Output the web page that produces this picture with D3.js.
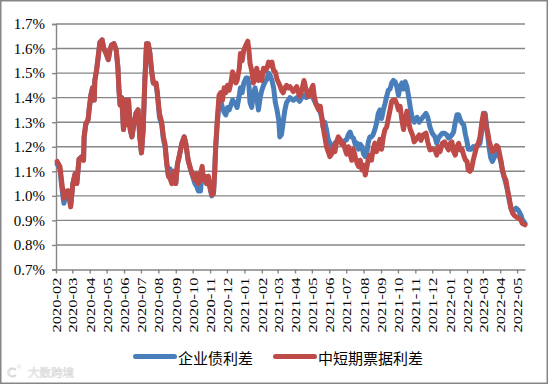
<!DOCTYPE html>
<html><head><meta charset="utf-8">
<script src="https://cdn.jsdelivr.net/npm/d3@7"></script>
<style>body{margin:0;background:#fff}svg{display:block}</style>
</head><body>
<svg id="c" width="549" height="385"></svg>
<script>
// ---- data ----
const dates = [
"2020-02-03","2020-02-08","2020-02-11","2020-02-15","2020-02-20","2020-02-23","2020-02-27","2020-03-02","2020-03-06","2020-03-09",
"2020-03-13","2020-03-18","2020-03-21","2020-03-22","2020-03-25","2020-03-29","2020-03-31","2020-04-03","2020-04-06","2020-04-09",
"2020-04-10","2020-04-13","2020-04-16","2020-04-19","2020-04-23","2020-04-26","2020-04-30","2020-05-04","2020-05-07","2020-05-10",
"2020-05-14","2020-05-18","2020-05-21","2020-05-23","2020-05-25","2020-05-28","2020-05-31","2020-06-03","2020-06-06","2020-06-09",
"2020-06-12","2020-06-15","2020-06-19","2020-06-22","2020-06-26","2020-06-29","2020-07-02","2020-07-05","2020-07-08","2020-07-11",
"2020-07-14","2020-07-17","2020-07-20","2020-07-23","2020-07-28","2020-07-30","2020-08-03","2020-08-07","2020-08-10","2020-08-13",
"2020-08-16","2020-08-19","2020-08-22","2020-08-25","2020-08-29","2020-09-01","2020-09-04","2020-09-07","2020-09-12","2020-09-16",
"2020-09-19","2020-09-23","2020-09-28","2020-10-01","2020-10-05","2020-10-08","2020-10-11","2020-10-15","2020-10-18","2020-10-20",
"2020-10-23","2020-10-26","2020-10-29","2020-11-01","2020-11-04","2020-11-07","2020-11-09","2020-11-11","2020-11-14","2020-11-17",
"2020-11-20","2020-11-23","2020-11-26","2020-11-29","2020-12-02","2020-12-05","2020-12-08","2020-12-11","2020-12-14","2020-12-17",
"2020-12-19","2020-12-23","2020-12-25","2020-12-28","2020-12-31","2021-01-04","2021-01-07","2021-01-09","2021-01-11","2021-01-14",
"2021-01-17","2021-01-20","2021-01-23","2021-01-26","2021-01-29","2021-02-01","2021-02-04","2021-02-07","2021-02-10","2021-02-13",
"2021-02-16","2021-02-19","2021-02-22","2021-02-25","2021-02-28","2021-03-03","2021-03-05","2021-03-08","2021-03-11","2021-03-14",
"2021-03-17","2021-03-20","2021-03-23","2021-03-29","2021-04-04","2021-04-09","2021-04-13","2021-04-17","2021-04-21","2021-04-25",
"2021-04-29","2021-05-03","2021-05-05","2021-05-08","2021-05-13","2021-05-16","2021-05-19","2021-05-21","2021-05-24","2021-05-27",
"2021-05-30","2021-06-02","2021-06-05","2021-06-08","2021-06-11","2021-06-14","2021-06-17","2021-06-20","2021-06-23","2021-06-26",
"2021-06-29","2021-07-02","2021-07-05","2021-07-08","2021-07-11","2021-07-14","2021-07-17","2021-07-20","2021-07-23","2021-07-26",
"2021-07-29","2021-08-01","2021-08-04","2021-08-07","2021-08-09","2021-08-12","2021-08-15","2021-08-18","2021-08-21","2021-08-24",
"2021-08-27","2021-08-30","2021-09-02","2021-09-05","2021-09-08","2021-09-11","2021-09-14","2021-09-17","2021-09-20","2021-09-23",
"2021-09-26","2021-09-29","2021-10-02","2021-10-05","2021-10-08","2021-10-11","2021-10-14","2021-10-17","2021-10-20","2021-10-23",
"2021-10-27","2021-10-30","2021-11-04","2021-11-08","2021-11-11","2021-11-15","2021-11-20","2021-11-23","2021-11-27","2021-12-01",
"2021-12-06","2021-12-09","2021-12-12","2021-12-15","2021-12-19","2021-12-23","2021-12-27","2021-12-30","2022-01-02","2022-01-05",
"2022-01-08","2022-01-11","2022-01-14","2022-01-17","2022-01-20","2022-01-23","2022-01-26","2022-01-29","2022-02-01","2022-02-03",
"2022-02-06","2022-02-09","2022-02-12","2022-02-15","2022-02-18","2022-02-21","2022-02-24","2022-02-27","2022-03-02","2022-03-05",
"2022-03-07","2022-03-10","2022-03-12","2022-03-15","2022-03-18","2022-03-22","2022-03-25","2022-03-28","2022-03-30","2022-04-02",
"2022-04-05","2022-04-08","2022-04-11","2022-04-14","2022-04-17","2022-04-20","2022-04-23","2022-04-26","2022-04-29","2022-05-03",
"2022-05-08","2022-05-10","2022-05-15"
];
// 中短期票据利差 (red), %
const mtnSpread = [
1.14,1.12,1.06,0.99,1.02,1.02,0.955,1.05,1.09,1.05,
1.15,1.16,1.145,1.24,1.295,1.31,1.355,1.41,1.44,1.39,
1.47,1.51,1.565,1.625,1.635,1.60,1.58,1.555,1.595,1.615,
1.62,1.595,1.525,1.43,1.37,1.40,1.27,1.39,1.29,1.39,
1.27,1.24,1.30,1.335,1.35,1.24,1.175,1.27,1.47,1.62,
1.62,1.58,1.51,1.46,1.46,1.425,1.335,1.30,1.24,1.21,
1.13,1.08,1.07,1.05,1.10,1.05,1.13,1.16,1.215,1.24,
1.21,1.145,1.105,1.085,1.065,1.09,1.05,1.09,1.12,1.065,
1.08,1.05,1.08,1.035,1.005,1.01,1.09,1.20,1.32,1.41,
1.42,1.39,1.44,1.42,1.45,1.43,1.46,1.505,1.48,1.46,
1.47,1.52,1.58,1.55,1.595,1.615,1.63,1.595,1.54,1.51,
1.46,1.48,1.52,1.47,1.50,1.47,1.52,1.51,1.52,1.545,
1.53,1.545,1.51,1.505,1.475,1.46,1.45,1.43,1.42,1.44,
1.45,1.44,1.445,1.425,1.445,1.405,1.43,1.47,1.43,1.405,
1.43,1.45,1.41,1.375,1.35,1.365,1.315,1.28,1.24,1.20,
1.18,1.16,1.17,1.20,1.18,1.22,1.24,1.23,1.21,1.215,
1.19,1.17,1.20,1.17,1.145,1.19,1.16,1.135,1.12,1.145,
1.105,1.125,1.085,1.12,1.145,1.165,1.145,1.19,1.215,1.18,
1.20,1.23,1.19,1.24,1.27,1.28,1.315,1.35,1.385,1.39,
1.39,1.375,1.35,1.365,1.31,1.27,1.31,1.345,1.30,1.27,
1.248,1.22,1.235,1.248,1.226,1.248,1.255,1.22,1.187,1.19,
1.187,1.166,1.20,1.18,1.214,1.22,1.20,1.187,1.214,1.22,
1.18,1.166,1.20,1.214,1.187,1.19,1.166,1.146,1.14,1.105,
1.10,1.11,1.146,1.173,1.20,1.214,1.24,1.296,1.336,1.33,
1.28,1.255,1.226,1.20,1.18,1.19,1.205,1.20,1.18,1.146,
1.105,1.078,1.065,1.024,0.99,0.95,0.929,0.92,0.915,0.91,
0.90,0.888,0.882
];
// 企业债利差 (blue), %
const corpSpread = [
1.13,1.11,1.04,0.97,1.01,1.02,0.96,1.05,1.09,1.05,
1.15,1.16,1.145,1.24,1.29,1.31,1.35,1.41,1.44,1.39,
1.47,1.51,1.565,1.625,1.635,1.60,1.58,1.555,1.595,1.615,
1.62,1.595,1.525,1.43,1.37,1.40,1.27,1.39,1.29,1.39,
1.27,1.24,1.30,1.335,1.35,1.24,1.175,1.27,1.47,1.62,
1.62,1.58,1.51,1.46,1.45,1.42,1.32,1.29,1.23,1.20,
1.13,1.08,1.11,1.06,1.10,1.05,1.13,1.16,1.215,1.24,
1.21,1.145,1.10,1.08,1.05,1.04,1.02,1.02,1.10,1.06,
1.07,1.05,1.07,1.03,1.00,1.01,1.09,1.20,1.30,1.38,
1.385,1.36,1.34,1.33,1.36,1.35,1.37,1.39,1.38,1.37,
1.36,1.41,1.44,1.42,1.46,1.48,1.48,1.45,1.38,1.36,
1.42,1.44,1.40,1.35,1.40,1.43,1.45,1.465,1.475,1.50,
1.49,1.47,1.44,1.38,1.35,1.31,1.24,1.25,1.30,1.35,
1.38,1.39,1.40,1.39,1.40,1.385,1.40,1.41,1.40,1.405,
1.41,1.40,1.39,1.375,1.365,1.34,1.315,1.28,1.30,1.27,
1.23,1.215,1.19,1.20,1.215,1.22,1.23,1.23,1.22,1.22,
1.225,1.23,1.25,1.26,1.24,1.235,1.21,1.215,1.19,1.21,
1.20,1.17,1.16,1.18,1.215,1.24,1.24,1.25,1.27,1.295,
1.335,1.35,1.315,1.35,1.375,1.405,1.43,1.435,1.46,1.47,
1.465,1.445,1.41,1.445,1.46,1.435,1.465,1.445,1.405,1.36,
1.31,1.30,1.32,1.30,1.31,1.322,1.336,1.32,1.28,1.255,
1.24,1.214,1.235,1.245,1.255,1.255,1.248,1.235,1.24,1.248,
1.26,1.30,1.33,1.33,1.31,1.296,1.29,1.25,1.22,1.19,
1.19,1.19,1.20,1.195,1.205,1.205,1.215,1.26,1.32,1.336,
1.30,1.24,1.20,1.155,1.14,1.16,1.175,1.175,1.165,1.14,
1.10,1.075,1.05,1.02,0.98,0.95,0.935,0.942,0.95,0.942,
0.92,0.905,0.888
];
const seriesNames = ["企业债利差", "中短期票据利差"];
const seriesColors = ["#4a7ebb", "#be4b48"];
const yTickValues = [0.7,0.8,0.9,1.0,1.1,1.2,1.3,1.4,1.5,1.6,1.7];
const xDomain = ["2020-02-01", "2022-05-15"];
const xTickStart = "2020-02-01", xTickEnd = "2022-05-01";

// ---- chart ----
const svg = d3.select("#c");
const parse = d3.utcParse("%Y-%m-%d");
const L = 56, R = 525, T = 24, B = 269.5;
const x = d3.scaleUtc().domain(xDomain.map(parse)).range([L, R]);
const y = d3.scaleLinear().domain([0.7, 1.7]).range([B, T]);
const grey = "#868686";

svg.append("rect").attr("x",0.75).attr("y",0.75).attr("width",546.5).attr("height",382.5)
  .attr("fill","#fff").attr("stroke",grey).attr("stroke-width",1.5);

// gridlines
svg.append("g").selectAll("line").data(yTickValues.slice(1)).join("line")
  .attr("x1", L).attr("x2", R).attr("y1", d => y(d)).attr("y2", d => y(d))
  .attr("stroke", grey).attr("stroke-width", 1.4);

// y axis
const yAxis = d3.axisLeft(y).tickValues(yTickValues).tickSize(4).tickPadding(7)
  .tickFormat(d => d3.format(".1f")(d) + "%");
const gy = svg.append("g").attr("transform", `translate(${L},0)`).call(yAxis);
gy.select(".domain").attr("stroke", grey).attr("stroke-width", 1.4);
gy.selectAll(".tick line").attr("stroke", grey).attr("stroke-width", 1.4);
gy.selectAll("text").attr("font-family", "'Liberation Serif','Times New Roman',serif")
  .attr("font-size", 15).attr("fill", "#000");

// x axis
const monthTicks = d3.utcMonth.range(parse(xTickStart), d3.utcDay.offset(parse(xTickEnd), 1));
const xAxis = d3.axisBottom(x).tickValues(monthTicks).tickSize(4).tickSizeOuter(0)
  .tickFormat(d3.utcFormat("%Y-%m"));
const gx = svg.append("g").attr("transform", `translate(0,${B})`).call(xAxis);
gx.select(".domain").attr("stroke", grey).attr("stroke-width", 1.4);
gx.selectAll(".tick line").attr("stroke", grey).attr("stroke-width", 1.4);
gx.selectAll("text")
  .attr("font-family", "'Liberation Serif','Times New Roman',serif")
  .attr("font-size", 13).attr("fill", "#000")
  .attr("text-anchor", "end")
  .attr("transform", "rotate(-90)")
  .attr("x", -8).attr("y", 0).attr("dy", "0.35em")
  .attr("textLength", 55).attr("lengthAdjust", "spacingAndGlyphs");

// lines
const pts = dates.map(parse);
const line = d3.line().x((d,i) => x(pts[i])).y(d => y(d));
[corpSpread, mtnSpread].forEach((vals, k) => {
  svg.append("path").datum(vals).attr("d", line)
    .attr("fill", "none").attr("stroke", seriesColors[k]).attr("stroke-width", 5)
    .attr("stroke-linejoin", "round").attr("stroke-linecap", "round");
});

// legend
const legX = [135.5, 275.5];
seriesNames.forEach((name, k) => {
  const g = svg.append("g");
  g.append("line").attr("x1", legX[k]).attr("x2", legX[k] + 39).attr("y1", 356.5).attr("y2", 356.5)
    .attr("stroke", seriesColors[k]).attr("stroke-width", 5).attr("stroke-linecap", "round");
  g.append("text").attr("x", legX[k] + 42.5).attr("y", 357).attr("dominant-baseline", "central")
    .attr("font-family", "'Noto Sans CJK SC','Noto Sans',sans-serif").attr("font-size", 15)
    .attr("fill", "#000").text(name);
});

// watermark
const wm = svg.append("g").attr("opacity", 0.6);
wm.append("text").attr("x", 7).attr("y", 377).attr("font-family","'DejaVu Sans',sans-serif")
  .attr("font-size", 13).attr("fill", "none").attr("stroke", "#bbb").attr("stroke-width", 0.8).text("C");
wm.append("text").attr("x", 16).attr("y", 369).attr("font-family","'DejaVu Sans',sans-serif")
  .attr("font-size", 6).attr("fill", "#ccc").text("®");
wm.append("text").attr("x", 28).attr("y", 377).attr("font-family","'Noto Sans CJK SC',sans-serif")
  .attr("font-size", 11.5).attr("fill", "#f4f4f4").attr("stroke", "#c4c4c4").attr("stroke-width", 0.6).text("大数跨境");
</script>
</body></html>
